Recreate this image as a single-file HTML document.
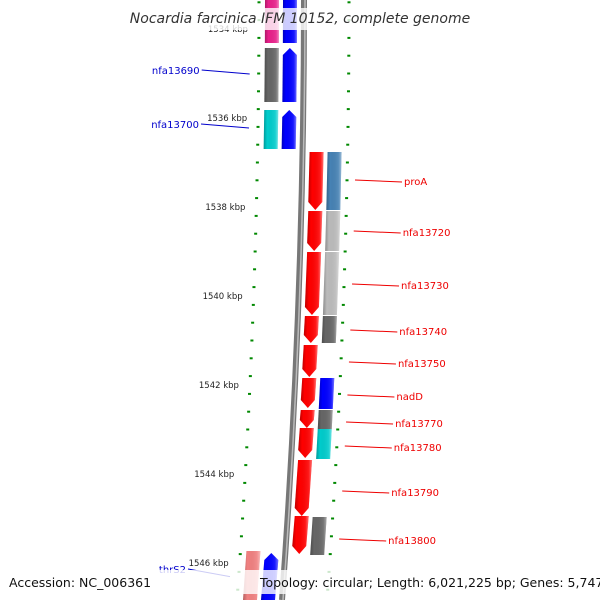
<!DOCTYPE html>
<html><head><meta charset="utf-8"><style>
body{margin:0;background:#fff;}
svg{display:block;font-family:"DejaVu Sans","Liberation Sans",sans-serif;}
</style></head><body>
<svg id="map" width="600" height="600" viewBox="0 0 600 600">
<defs>
<linearGradient id="shade" x1="0" x2="1" y1="0" y2="0">
<stop offset="0" stop-color="#000" stop-opacity="0.25"/>
<stop offset="0.25" stop-color="#000" stop-opacity="0"/>
<stop offset="0.8" stop-color="#fff" stop-opacity="0.1"/>
<stop offset="1" stop-color="#fff" stop-opacity="0.45"/>
</linearGradient>
</defs>
<g id="ticks"></g>
<path d="M304,0 Q304,300 282,600" fill="none" stroke="#777" stroke-width="6"/>
<path d="M305,0 Q305,300 283,600" fill="none" stroke="#bbb" stroke-width="1.5"/>
<g id="genes"></g>
<g id="labels"></g>
<rect x="0" y="8" width="600" height="22" fill="#fff" fill-opacity="0.8"/>
<text x="300" y="23" text-anchor="middle" font-size="14" font-style="italic" fill="#333">Nocardia farcinica IFM 10152, complete genome</text>
<rect x="0" y="570" width="600" height="24" fill="#fff" fill-opacity="0.8"/>
<text x="9" y="587" font-size="12.5" fill="#111">Accession: NC_006361</text>
<text x="260" y="587" font-size="12.5" fill="#111">Topology: circular; Length: 6,021,225 bp; Genes: 5,747</text>
</svg>
<script>
const tickKbp = [1534, 1536, 1538, 1540, 1542, 1544, 1546];
const geneStart = [0,0,48,48,110,110,152,152,211,211,252,252,316,316,345,378,378,410,410,428,429,460,516,517,551,553];
const geneEnd   = [43,43,102,102,149,149,210,210,251,251,315,315,343,343,377,408,409,428,429,458,459,516,554,555,600,600];
const geneLane  = [-2,-1,-2,-1,-2,-1,1,2,1,2,1,2,1,2,1,1,2,1,2,1,2,1,1,2,-2,-1];
const geneColor = ["#e8208a","#0000ff","#666666","#0000ff","#00cccc","#0000ff","#ff0000","#4682b4","#ff0000","#bbbbbb","#ff0000","#bbbbbb","#ff0000","#666666","#ff0000","#ff0000","#0000ff","#ff0000","#666666","#ff0000","#00cccc","#ff0000","#ff0000","#666666","#f08080","#0000ff"];
const geneArrow = [0,0,0,1,0,1,1,0,1,0,1,0,1,0,1,1,0,1,0,1,0,1,1,0,0,1];
const rightNames = ["proA","nfa13720","nfa13730","nfa13740","nfa13750","nadD","nfa13770","nfa13780","nfa13790","nfa13800"];
const rightY = [181,232,285,331,363,396,423,447,492,540];
const leftNames = ["nfa13690","nfa13700","thrS2"];
const leftY = [73,127,572];

const NS="http://www.w3.org/2000/svg";
function bx(y){return 304-22*y*y/360000;}
function kbpToY(k){return 29+(k-1534)*44.5;}
function mk(tag,attrs,parent){const e=document.createElementNS(NS,tag);for(const k in attrs)e.setAttribute(k,attrs[k]);parent.appendChild(e);return e;}
const tg=document.getElementById('ticks');
for(let k=1533.4;k<=1547;k+=0.4){
  const kk=Math.round(k*10)/10;const y=kbpToY(kk);if(y<0||y>600)continue;
  const major=Math.abs(kk-Math.round(kk))<0.01&&Math.round(kk)%2===0;
  const w=major?8:3;
  [-45,45].forEach(o=>{const x=bx(y)+o;
    const r=mk('rect',{x:x-w/2,y:y-1,width:w,height:2,fill:'#080'},tg);
    
    });
}
tickKbp.forEach(k=>{const y=kbpToY(k);
  const t=mk('text',{x:bx(y)-56,y:y+3,'text-anchor':'end','font-size':'8.5',fill:'#222'},tg);
  t.textContent=k+' kbp';
  
  });
const gg=document.getElementById('genes');
const laneOff={'-2':-39,'-1':-21,'1':7,'2':25};
geneStart.forEach((s,i)=>{const e=geneEnd[i];const o=laneOff[geneLane[i]];
  const x1=bx(s)+o,x2=bx(e)+o,w=14;let pts;
  if(geneArrow[i]&&geneLane[i]>0){pts=[[x1,s],[x1+w,s],[x2+w,e-8],[x2+w/2,e],[x2,e-8]];}
  else if(geneArrow[i]){pts=[[x1+w/2,s],[x1+w,s+7],[x2+w,e],[x2,e],[x1,s+7]];}
  else pts=[[x1,s],[x1+w,s],[x2+w,e],[x2,e]];
  const d=pts.map(p=>p.join(',')).join(' ');
  const g=mk('g',{},gg);
  
  
  mk('polygon',{points:d,fill:geneColor[i]},g);
  mk('polygon',{points:d,fill:'url(#shade)'},g);
});
const lg=document.getElementById('labels');
rightNames.forEach((n,i)=>{const y=rightY[i];const x0=bx(y)+53;
  const l=mk('line',{x1:x0,y1:y-1,x2:x0+47,y2:y+1,stroke:'#e00',"stroke-width":1},lg);
  
  
  const t=mk('text',{x:x0+49,y:y+4,'font-size':'10',fill:'#e00'},lg);t.textContent=n;
  
  });
leftNames.forEach((n,i)=>{const y=leftY[i];const xe=bx(y)-54;const slant=i===2?6:0;
  const l=mk('line',{x1:xe-48+slant,y1:y-3,x2:xe,y2:y+1+slant*0.6,stroke:'#00c',"stroke-width":1},lg);
  
  
  const t=mk('text',{x:xe-50+slant,y:y+1,'text-anchor':'end','font-size':'10',fill:'#00c'},lg);t.textContent=n;
  
  });
</script>
</body></html>
